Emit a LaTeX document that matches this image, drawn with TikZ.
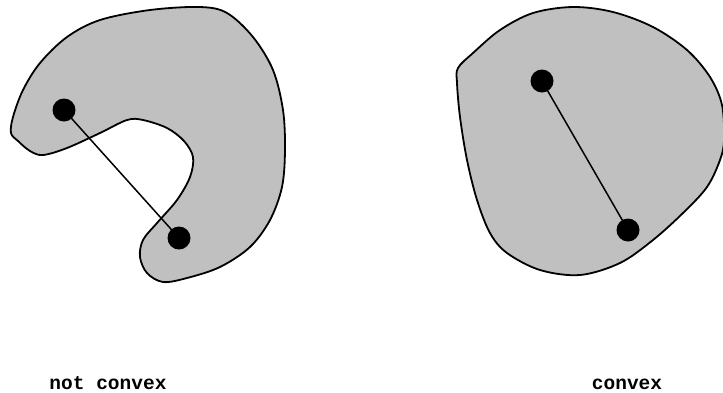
\documentclass[tikz,border=0pt]{standalone}
\usepackage{fontspec}
\setmonofont{Liberation Mono}
\usepackage{tikz}
\usetikzlibrary{positioning}
\definecolor{blobgray}{HTML}{C0C0C0}
\tikzset{
    blob/.style={draw=black, line width=1.8pt, fill=blobgray},
    point/.style={circle, fill=black, inner sep=0pt, minimum size=23pt},
    segment/.style={draw, line width=1.5pt},
    caption/.style={anchor=base, font={\ttfamily\bfseries\fontsize{19.5pt}{19.5pt}\selectfont}},
}

\begin{document}
\begin{tikzpicture}[x=1pt, y=-1pt]
\useasboundingbox (0,0) rectangle (723,392);

% Not convex shape
\draw[blob] plot[smooth cycle, tension=0.55] coordinates {
    (11,133) (13,117) (23,90) (40,63) (67,37) (100,20) (150,10) (200,7)
    (227,13) (253,37) (273,70) (283,110) (285,150) (282,187) (270,220)
    (250,247) (220,267) (187,278) (163,282) (147,273) (140,257) (143,240)
    (157,223) (177,200) (190,177) (193,157) (184,141) (167,128) (143,120)
    (127,120) (100,133) (67,148) (43,155) (30,151) (18,141)};

% Convex shape
\draw[blob] plot[smooth cycle, tension=0.55] coordinates {
    (458,68) (473,53) (500,30) (533,13) (573,7) (613,12) (653,27) (687,50)
    (710,77) (722,105) (724,140) (720,160) (707,187) (683,213) (653,240)
    (620,263) (580,275) (540,270) (507,253) (490,233) (477,200) (467,160)
    (460,117) (457,83)};

% Points
\node[point] (p1) at (64,110) {};
\node[point] (p2) at (179,238) {};
\node[point] (q1) at (542,81) {};
\node[point] (q2) at (628,230) {};

% Segments
\draw[segment] (p1.center) -- (p2.center);
\draw[segment] (q1.center) -- (q2.center);

% Labels
\node[caption] (notconvex) at (108,389) {not convex};
\node[caption] (convex) at (627,389) {convex};
\end{tikzpicture}
\end{document}
